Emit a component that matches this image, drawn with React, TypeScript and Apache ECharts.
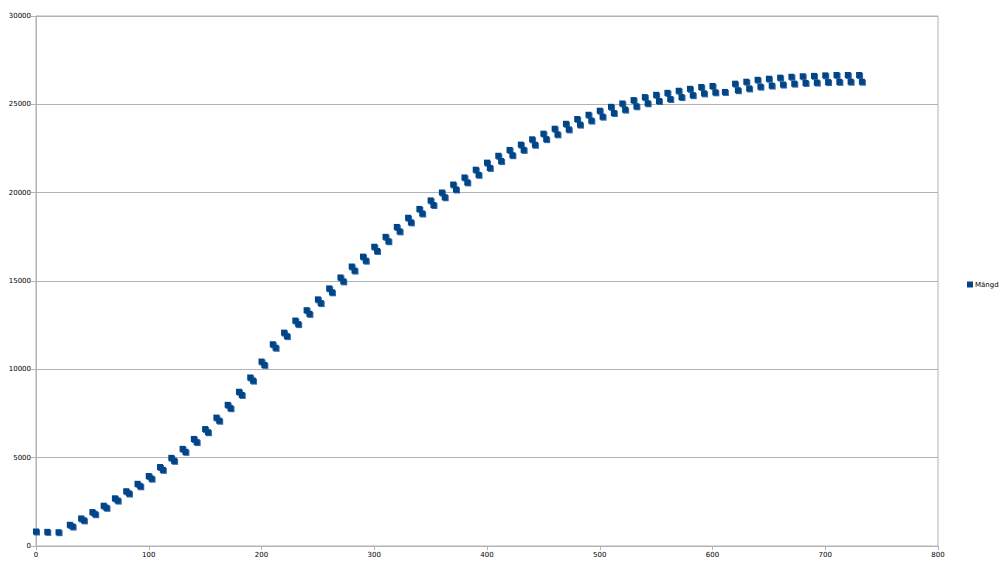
import React, { useEffect, useRef } from "react";
import * as echarts from "echarts";

const seriesName = "Mängd";

const xA = [0, 10, 20, 30, 40, 50, 60, 70, 80, 90, 100, 110, 120, 130, 140, 150, 160, 170, 180, 190, 200, 210, 220, 230, 240, 250, 260, 270, 280, 290, 300, 310, 320, 330, 340, 350, 360, 370, 380, 390, 400, 410, 420, 430, 440, 450, 460, 470, 480, 490, 500, 510, 520, 530, 540, 550, 560, 570, 580, 590, 600, 611, 620, 630, 640, 650, 660, 670, 680, 690, 700, 710, 720, 730];
const yA = [820, 800, 780, 1200, 1560, 1920, 2280, 2700, 3100, 3520, 3960, 4470, 4990, 5500, 6060, 6620, 7270, 7990, 8730, 9540, 10440, 11420, 12080, 12760, 13350, 13960, 14580, 15200, 15820, 16380, 16940, 17500, 18060, 18580, 19080, 19560, 20010, 20460, 20860, 21300, 21700, 22090, 22420, 22720, 23020, 23340, 23620, 23900, 24170, 24410, 24640, 24860, 25050, 25240, 25410, 25540, 25650, 25770, 25880, 25980, 26040, 25700, 26170, 26280, 26390, 26450, 26510, 26560, 26590, 26610, 26640, 26660, 26660, 26660];

const xB = [32.5, 42.5, 52.5, 62.5, 72.5, 82.5, 92.5, 102.5, 112.5, 122.5, 132.5, 142.5, 152.5, 162.5, 172.5, 182.5, 192.5, 202.5, 212.5, 222.5, 232.5, 242.5, 252.5, 262.5, 272.5, 282.5, 292.5, 302.5, 312.5, 322.5, 332.5, 342.5, 352.5, 362.5, 372.5, 382.5, 392.5, 402.5, 412.5, 422.5, 432.5, 442.5, 452.5, 462.5, 472.5, 482.5, 492.5, 502.5, 512.5, 522.5, 532.5, 542.5, 552.5, 562.5, 572.5, 582.5, 592.5, 602.5, 622.5, 632.5, 642.5, 652.5, 662.5, 672.5, 682.5, 692.5, 702.5, 712.5, 722.5, 732.5];
const yB = [1100, 1450, 1800, 2160, 2570, 2970, 3380, 3810, 4310, 4820, 5330, 5880, 6440, 7090, 7800, 8550, 9360, 10250, 11220, 11880, 12560, 13140, 13750, 14360, 14980, 15590, 16150, 16700, 17250, 17810, 18320, 18820, 19300, 19740, 20180, 20580, 21010, 21400, 21790, 22120, 22420, 22710, 23030, 23300, 23580, 23850, 24080, 24300, 24510, 24700, 24890, 25060, 25190, 25300, 25410, 25520, 25620, 25680, 25800, 25900, 26000, 26060, 26120, 26170, 26210, 26230, 26260, 26270, 26280, 26280];

const xTicks = { min: 0, max: 800, interval: 100 };
const yTicks = { min: 0, max: 30000, interval: 5000 };

const BLUE = "#004586";
const GRAY = "#b3b3b3";
const FONT = "DejaVu Sans";

export default function App() {
  const ref = useRef<HTMLDivElement>(null);
  useEffect(() => {
    if (!ref.current) return;
    const chart = echarts.init(ref.current, undefined, { renderer: "svg" });
    const data: number[][] = [];
    xA.forEach((x, i) => data.push([x, yA[i]]));
    xB.forEach((x, i) => data.push([x, yB[i]]));
    chart.setOption({
      animation: false,
      backgroundColor: "#ffffff",
      grid: {
        left: 36,
        right: 61,
        top: 16,
        bottom: 24,
        show: true,
        borderColor: GRAY,
        borderWidth: 1,
        containLabel: false,
      },
      legend: {
        data: [{ name: seriesName, icon: "rect" }],
        left: 967,
        top: 281,
        orient: "vertical",
        itemWidth: 6,
        itemHeight: 6,
        itemGap: 2,
        padding: 0,
        textStyle: { fontFamily: FONT, fontSize: 7, color: "#000", padding: [0, 0, 0, -3] },
      },
      xAxis: {
        type: "value",
        min: xTicks.min,
        max: xTicks.max,
        interval: xTicks.interval,
        splitLine: { show: false },
        axisLine: { show: true, lineStyle: { color: GRAY, width: 1 } },
        axisTick: { show: true, inside: false, length: 4, lineStyle: { color: GRAY } },
        axisLabel: { fontFamily: FONT, fontSize: 7, color: "#000", margin: 5, formatter: (v: number) => String(v) },
      },
      yAxis: {
        type: "value",
        min: yTicks.min,
        max: yTicks.max,
        interval: yTicks.interval,
        splitLine: { show: true, lineStyle: { color: GRAY, width: 1 } },
        axisLine: { show: true, lineStyle: { color: GRAY, width: 1 } },
        axisTick: { show: true, inside: false, length: 5, lineStyle: { color: GRAY } },
        axisLabel: { fontFamily: FONT, fontSize: 7, color: "#000", margin: 5, formatter: (v: number) => String(v) },
      },
      series: [
        {
          name: seriesName,
          type: "scatter",
          symbol: "rect",
          symbolSize: 6,
          data,
          itemStyle: {
            color: BLUE,
            opacity: 1,
            shadowColor: "rgba(30,90,160,0.9)",
            shadowOffsetX: 1,
            shadowOffsetY: 1,
            shadowBlur: 0,
          },
        },
      ],
    });
    return () => chart.dispose();
  }, []);
  return <div ref={ref} style={{ width: 999, height: 570, position: "absolute", left: 0, top: 0 }} />;
}
